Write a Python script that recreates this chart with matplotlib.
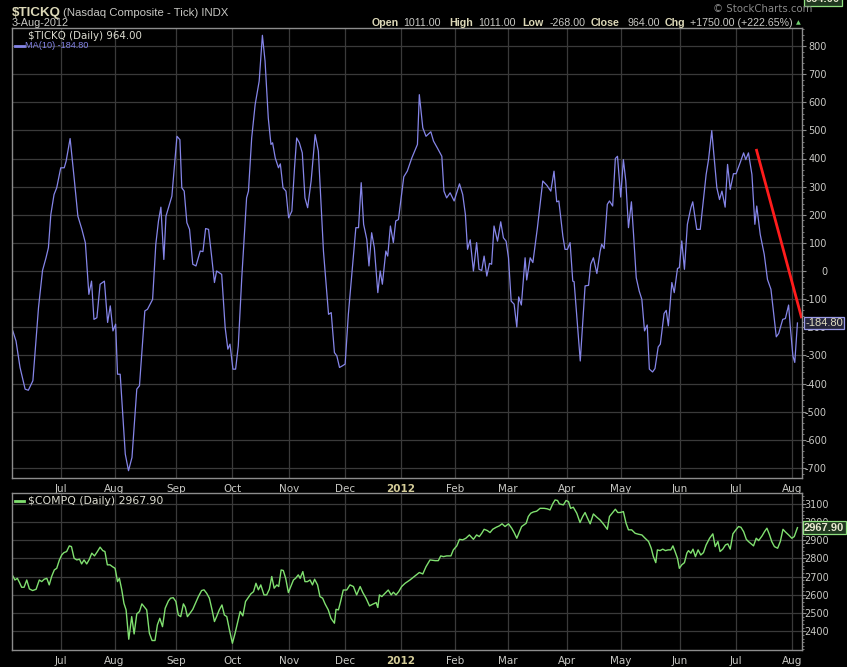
import pandas as pd
import matplotlib
matplotlib.use('Agg')
import matplotlib.pyplot as plt
from matplotlib.ticker import MultipleLocator

# trading calendar of the chart (NYSE sessions)
holidays = ['2011-07-04', '2011-09-05', '2011-11-24', '2011-12-26', '2012-01-02',
            '2012-01-16', '2012-02-20', '2012-04-06', '2012-05-28', '2012-07-04']
sessions = pd.bdate_range('2011-06-06', '2012-08-03', freq='C', holidays=holidays)

# MA(10) of $TICKQ (session number, value)
ma_session = [1.0, 2.2, 3.7, 5.6, 6.8, 8.5, 10.6, 12.1, 13.4, 14.3, 15.2, 16.4, 17.4, 18.9, 20.2,
              20.9, 22.4, 23.9, 25.3, 26.8, 28.1, 29.4, 30.4, 31.3, 32.4, 33.6, 35.2, 36.4, 37.4,
              38.4, 39.4, 40.1, 41.1, 43.0, 44.2, 45.5, 47.3, 48.3, 50.3, 51.3, 53.2, 54.4, 55.4,
              56.3, 57.4, 58.2, 60.4, 62.3, 63.4, 64.1, 65.0, 66.0, 67.0, 68.2, 69.4, 71.0, 72.0,
              73.0, 74.1, 75.3, 76.3, 77.1, 79.0, 80.3, 81.3, 82.1, 83.2, 84.2, 85.2, 86.5, 88.3,
              89.0, 90.2, 91.5, 93.0, 94.2, 95.2, 96.4, 97.4, 98.0, 99.0, 100.2, 100.9, 101.9,
              103.0, 104.0, 105.2, 106.2, 107.0, 108.0, 109.1, 110.1, 111.1, 112.4, 113.9, 115.1,
              117.0, 118.9, 119.9, 121.1, 122.0, 123.0, 124.1, 125.1, 126.3, 127.6, 129.1, 130.1,
              131.1, 132.0, 133.2, 134.0, 135.0, 136.0, 137.3, 138.2, 139.0, 140.3, 141.0, 142.0,
              143.1, 144.0, 145.0, 146.0, 147.0, 148.3, 150.0, 151.6, 152.1, 152.8, 154.1, 155.3,
              157.1, 158.1, 159.5, 161.2, 162.0, 163.0, 164.3, 165.8, 167.8, 169.0, 170.0, 170.8,
              171.8, 173.0, 174.2, 175.1, 176.1, 177.0, 178.0, 179.0, 179.8, 180.7, 182.0, 183.2,
              184.2, 185.2, 186.1, 187.1, 188.2, 189.2, 189.9, 190.9, 192.3, 192.9, 194.2, 195.2,
              196.9, 198.9, 200.4, 201.9, 203.1, 204.1, 204.9, 206.4, 207.2, 208.1, 209.1, 210.1,
              210.6, 212.9, 214.7, 216.0, 216.8, 217.8, 219.1, 220.3, 220.9, 221.8, 223.0, 223.8,
              225.0, 226.0, 226.8, 228.0, 229.0, 229.9, 230.9, 232.0, 232.8, 233.8, 234.9, 235.9,
              236.9, 237.9, 238.7, 239.9, 240.8, 242.0, 242.8, 244.2, 245.0, 245.8, 247.1, 248.0,
              249.2, 249.9, 250.8, 251.8, 252.9, 254.2, 254.9, 256.4, 257.7, 259.9, 260.8, 262.0,
              262.9, 263.9, 264.9, 265.8, 267.0, 267.9, 268.9, 270.1, 271.1, 272.6, 273.9, 274.7,
              275.7, 277.0, 278.1, 278.8, 280.1, 281.6, 282.8, 284.1, 286.1, 287.0, 288.5, 289.5,
              290.7, 291.3, 292.3, 293.0, 294.0]
ma_value = [-213, -249, -343, -420, -424, -390, -130, 2, 47, 83, 201, 272, 296, 367, 367,
            390, 471, 331, 195, 148, 100, -83, -36, -172, -166, -47, -36, -183, -124,
            -213, -189, -367, -367, -651, -710, -663, -420, -408, -142, -136, -101, 95, 178,
            227, 41, 195, 266, 479, 467, 296, 284, 172, 148, 24, 18, 71, 69,
            151, 148, 47, -41, 0, -12, -201, -278, -260, -349, -349, -266, -24, 260,
            284, 473, 592, 675, 838, 746, 544, 450, 456, 402, 367, 381, 296,
            284, 189, 213, 367, 473, 456, 420, 260, 225, 320, 485, 426,
            71, -154, -148, -290, -302, -343, -337, -331, -154, -12, 154, 154,
            314, 166, 112, 18, 136, 83, -77, 0, -47, 71, 53, 160,
            101, 178, 183, 260, 335, 355, 402, 438, 450, 627, 509, 479,
            495, 462, 438, 408, 284, 260, 278, 249, 310, 272, 201, 77,
            111, 0, 101, 6, 2, 53, -18, 27, 24, 160, 106, 175,
            118, 106, 47, -107, -118, -199, -92, -121, 47, -32, 47, 30,
            154, 320, 305, 284, 355, 246, 249, 124, 77, 77, 101, -36,
            -38, -320, -53, -51, 24, 47, -9, 69, 95, 80, 237, 249,
            231, 400, 408, 263, 396, 320, 154, 246, 130, -24, -71, -101,
            -213, -192, -349, -359, -347, -270, -260, -151, -140, -195, -41, -77,
            9, 12, 107, 6, 166, 225, 246, 148, 148, 343, 396, 499,
            402, 296, 254, 284, 227, 379, 290, 346, 346, 385, 420, 396,
            420, 343, 166, 231, 130, 59, -30, -65, -234, -222, -172, -169,
            -121, -195, -302, -325, -184.8]

# $COMPQ close
comp_session = [1.0, 1.8, 2.7, 3.5, 4.3, 5.2, 6.2, 7.2, 8.4, 9.7, 10.9, 11.8, 12.7, 13.7, 14.6,
                15.5, 16.5, 17.4, 18.4, 19.3, 20.1, 21.1, 22.1, 22.9, 23.9, 24.9, 25.9, 26.7,
                27.6, 28.6, 29.6, 30.5, 31.5, 32.6, 33.6, 34.6, 35.4, 36.3, 37.3, 38.2, 39.2,
                40.1, 40.8, 41.7, 42.5, 43.3, 44.3, 45.4, 46.3, 47.3, 48.3, 49.2, 50.0, 51.0,
                52.0, 53.0, 54.1, 55.0, 55.9, 56.9, 57.9, 59.1, 59.9, 60.9, 61.9, 62.8, 63.7,
                64.7, 65.4, 66.2, 67.2, 68.2, 69.2, 70.3, 71.5, 72.4, 73.4, 74.4, 75.4, 76.3,
                77.1, 78.1, 79.1, 80.0, 80.9, 81.9, 83.0, 84.0, 85.0, 85.9, 86.9, 87.9, 89.0,
                89.9, 90.9, 91.8, 92.7, 93.6, 94.8, 95.8, 96.8, 97.7, 98.6, 99.6, 100.3, 101.2,
                102.0, 102.9, 103.9, 104.8, 105.8, 106.6, 107.6, 108.3, 109.3, 110.1, 111.0,
                112.0, 112.9, 113.7, 114.8, 115.7, 116.7, 117.6, 118.8, 119.8, 121.1, 121.7,
                122.6, 123.4, 124.4, 125.7, 126.9, 128.2, 129.4, 130.7, 131.7, 132.9, 134.2,
                135.4, 136.7, 137.3, 137.9, 138.8, 140.0, 141.2, 142.3, 143.1, 144.1, 145.1,
                146.2, 147.5, 149.3, 151.2, 152.8, 154.1, 155.3, 156.8, 158.7, 159.9, 160.8,
                161.8, 163.0, 164.6, 165.5, 166.8, 167.8, 169.0, 170.2, 171.5, 173.0, 174.2,
                175.2, 176.1, 177.0, 178.2, 179.2, 180.2, 181.5, 182.7, 183.7, 184.8, 186.1,
                187.3, 188.2, 189.2, 190.2, 191.0, 192.7, 193.5, 194.4, 195.4, 196.6, 197.9,
                199.4, 200.6, 201.6, 202.6, 203.5, 204.4, 205.1, 206.6, 207.6, 208.5, 209.3,
                210.3, 211.6, 212.8, 213.8, 214.7, 215.6, 216.6, 217.8, 219.1, 220.3, 221.5,
                223.0, 223.8, 225.0, 226.0, 226.9, 227.8, 229.0, 230.0, 230.9, 232.1, 233.4,
                234.6, 235.9, 237.1, 238.4, 239.4, 240.2, 241.1, 241.7, 242.7, 243.7, 244.7,
                245.7, 246.7, 247.5, 248.3, 249.2, 249.9, 250.8, 251.8, 252.7, 253.3, 254.2,
                255.0, 255.9, 256.9, 257.9, 258.9, 259.9, 261.2, 262.4, 263.3, 264.3, 265.1,
                266.1, 267.1, 268.0, 268.9, 269.9, 270.8, 272.0, 272.9, 273.9, 274.9, 275.7,
                276.7, 277.6, 278.6, 279.5, 280.8, 281.7, 282.6, 283.6, 284.4, 285.4, 286.6,
                287.6, 288.6, 289.4, 290.7, 291.9, 292.8, 294.0]
comp_value = [2703, 2681, 2690, 2667, 2641, 2641, 2681, 2632, 2623, 2630, 2681, 2672, 2685, 2690, 2654,
              2700, 2736, 2745, 2791, 2819, 2831, 2837, 2868, 2864, 2800, 2791, 2795, 2769,
              2791, 2769, 2795, 2828, 2813, 2837, 2861, 2842, 2837, 2764, 2764, 2754, 2745,
              2672, 2690, 2626, 2553, 2517, 2356, 2480, 2385, 2495, 2508, 2550, 2535, 2517,
              2389, 2349, 2349, 2435, 2471, 2425, 2526, 2566, 2581, 2584, 2563, 2489, 2480,
              2550, 2532, 2480, 2499, 2520, 2553, 2590, 2623, 2627, 2608, 2581, 2517, 2453,
              2480, 2517, 2544, 2489, 2480, 2407, 2334, 2389, 2453, 2508, 2484, 2563, 2586,
              2605, 2617, 2663, 2627, 2654, 2599, 2599, 2630, 2700, 2636, 2654, 2645, 2736,
              2733, 2690, 2612, 2645, 2681, 2690, 2709, 2690, 2727, 2672, 2672,
              2681, 2654, 2685, 2654, 2590, 2581, 2550, 2517, 2471, 2444, 2520,
              2517, 2563, 2626, 2626, 2654, 2645, 2599, 2645, 2612, 2581, 2539,
              2548, 2557, 2530, 2599, 2590, 2608, 2626, 2599, 2614, 2599, 2617,
              2645, 2663, 2681, 2703, 2722, 2714, 2754, 2791, 2787, 2787, 2813,
              2809, 2813, 2813, 2846, 2868, 2904, 2901, 2910, 2928, 2904, 2928,
              2919, 2937, 2959, 2952, 2941, 2959, 2970, 2978, 2989, 2974, 2989,
              2965, 2941, 2910, 2946, 2974, 2992, 3029, 3047, 3054, 3058, 3074,
              3074, 3071, 3065, 3098, 3120, 3117, 3098, 3093, 3117, 3111, 3074,
              3080, 3047, 2996, 3029, 3051, 3020, 2989, 3043, 3025, 3010, 2989,
              2959, 3029, 3051, 3069, 3051, 3051, 3056, 2992, 2956, 2956, 2937,
              2932, 2928, 2910, 2892, 2855, 2809, 2776, 2846, 2842, 2850, 2842,
              2846, 2846, 2868, 2837, 2800, 2745, 2764, 2776, 2828, 2842, 2828,
              2850, 2809, 2846, 2818, 2831, 2873, 2910, 2934, 2864, 2892, 2837,
              2850, 2873, 2879, 2850, 2934, 2952, 2974, 2970, 2946, 2904, 2892,
              2879, 2868, 2910, 2897, 2923, 2946, 2965, 2928, 2892, 2864, 2855,
              2892, 2959, 2946, 2928, 2910, 2919, 2967.9]

# hand drawn trend line on the upper panel
trend_session = [278.6, 295.6]
trend_value = [434, -168]

tick_y_top = list(range(-700, 801, 100))
tick_y_bot = list(range(2400, 3101, 100))

BG = 'black'
FRAME = '#8c8c8c'
GRID = '#3a3a3a'
TEXT = '#c8c8c4'
KHAKI = '#dcd8b8'
BLUE = '#8585e8'
GREEN = '#80e070'

W, H = 847, 667
fig = plt.figure(figsize=(W / 100, H / 100), dpi=100, facecolor=BG)


def px(x, y):
    return x / W, 1 - y / H


def panel(top, bottom):
    return fig.add_axes([12 / W, 1 - bottom / H, 790 / W, (bottom - top) / H])


ax_top = panel(28, 478)
ax_bot = panel(493, 650)

month_pos = [i for i in range(1, len(sessions)) if sessions[i].month != sessions[i - 1].month]
month_lab = [sessions[i].strftime('%Y') if sessions[i].month == 1 else sessions[i].strftime('%b')
             for i in month_pos]


def style(ax, ylim, yticks, pad):
    ax.set_facecolor(BG)
    ax.set_xlim(0.7, 295.7)
    ax.set_ylim(*ylim)
    for s in ax.spines.values():
        s.set_color(FRAME)
        s.set_linewidth(1.0)
    ax.set_xticks(month_pos)
    ax.set_xticklabels(month_lab, fontsize=7.5, color=TEXT)
    for lab in ax.get_xticklabels():
        if lab.get_text() == '2012':
            lab.set_fontweight('bold')
            lab.set_color('#d4cc98')
    ax.tick_params(axis='x', length=0, pad=4)
    ax.yaxis.tick_right()
    ax.set_yticks(yticks)
    ax.set_yticklabels([str(v) for v in yticks], ha='right', fontsize=7, color=TEXT)
    ax.yaxis.set_minor_locator(MultipleLocator(20))
    ax.tick_params(axis='y', which='major', length=3, color=FRAME, pad=pad)
    ax.tick_params(axis='y', which='minor', length=1.5, color=FRAME)
    ax.grid(True, which='major', color=GRID, linewidth=0.9)
    ax.set_axisbelow(True)


style(ax_top, (-736, 864), tick_y_top, 15)
style(ax_bot, (2297, 3158), tick_y_bot, 16.5)

ax_top.plot(ma_session, ma_value, color=BLUE, lw=0.9)
ax_top.plot(trend_session, trend_value, color='#ff1c1c', lw=2.0, solid_capstyle='butt')
ax_bot.plot(comp_session, comp_value, color=GREEN, lw=1.0)

# last value boxes on the right axis
ax_top.annotate(f'{ma_value[-1]:.2f}', xy=(1, ma_value[-1]), xycoords=('axes fraction', 'data'),
                xytext=(2.5, 0), textcoords='offset points', ha='left', va='center',
                fontsize=8, family='Liberation Sans', color='#e0ddc0', annotation_clip=False,
                bbox=dict(boxstyle='square,pad=0.1', fc='#25253a', ec='#9a9ae8', lw=0.9))
ax_bot.annotate(f'{comp_value[-1]:.2f}', xy=(1, comp_value[-1]), xycoords=('axes fraction', 'data'),
                xytext=(1.5, 0), textcoords='offset points', ha='left', va='center',
                fontsize=8, fontweight='bold', family='Liberation Sans', color='#e8e8d0',
                annotation_clip=False,
                bbox=dict(boxstyle='square,pad=0.12', fc='#203820', ec='#90e080', lw=0.9))
fig.text(*px(806, -1), '964.00', ha='left', va='center', fontsize=8, fontweight='bold',
         family='Liberation Sans', color='#e8e8d0',
         bbox=dict(boxstyle='square,pad=0.15', fc='#203820', ec='#90e080', lw=0.9))

# header
fig.text(*px(12, 13), '$TICKQ', ha='left', va='center', fontsize=9.6, fontweight='bold',
         family='Liberation Sans', color=KHAKI)
fig.text(*px(63, 13), '(Nasdaq Composite - Tick) INDX', ha='left', va='center', fontsize=8.2,
         family='Liberation Sans', color=TEXT)
fig.text(*px(12, 23), '3-Aug-2012', ha='left', va='center', fontsize=7.8,
         family='Liberation Sans', color=TEXT)
fig.text(*px(713, 9), '\u00a9 StockCharts.com', ha='left', va='center', fontsize=7.3,
         color='#8a8a8a')

quote = [(372, 'Open', True), (403, '1011.00', False), (449, 'High', True), (478, '1011.00', False),
         (522, 'Low', True), (550, '-268.00', False), (591, 'Close', True), (627, '964.00', False),
         (665, 'Chg', True), (690, '+1750.00 (+222.65%)', False)]
for x, s, bold in quote:
    fig.text(*px(x, 23), s, ha='left', va='center', fontsize=7.7, family='Liberation Sans',
             fontweight='bold' if bold else 'normal', color=KHAKI if bold else TEXT)
fig.text(*px(798, 23), '\u25b2', ha='center', va='center', fontsize=4.5, color='#70d070')

# legends inside panels
fig.text(*px(28, 36), '$TICKQ (Daily) 964.00', ha='left', va='center', fontsize=7.4, color='#dcdcd0')
fig.lines.append(plt.Line2D([15 / W, 24 / W], [1 - 46 / H] * 2, color=BLUE, lw=2, transform=fig.transFigure))
fig.text(*px(25, 46), 'MA(10) -184.80', ha='left', va='center', fontsize=6.6,
         family='Liberation Sans', color=BLUE)
fig.lines.append(plt.Line2D([15 / W, 24 / W], [1 - 501 / H] * 2, color=GREEN, lw=2, transform=fig.transFigure))
fig.text(*px(28, 501), '$COMPQ (Daily) 2967.90', ha='left', va='center', fontsize=7.8, color='#dcdcd0')

fig.savefig('out.png', dpi=100, facecolor=BG)
